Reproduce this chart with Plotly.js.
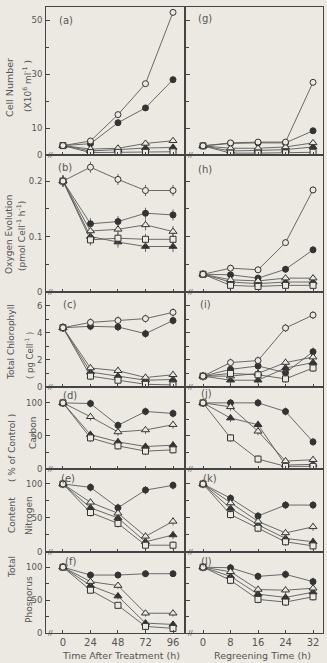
<!DOCTYPE html>
<html><head><meta charset="utf-8">
<script src="https://cdn.plot.ly/plotly-3.0.1.min.js"></script>
<style>html,body{margin:0;padding:0;background:#ebe9e1;} #chart{width:327px;height:663px;}</style>
</head><body><div id="chart"></div>
<script>
// ---------- data ----------
const timeTreat = [0, 24, 48, 72, 96];
const timeRegreen = [0, 8, 16, 24, 32];
const tickTreat = ['0', '24', '48', '72', '96'];
const tickRegreen = ['0', '8', '16', '24', '32'];

// (a) Cell number
const a_oc = [3.5, 5.2, 15, 26.5, 53];
const a_fc = [3.5, 4.2, 12, 17.5, 28];
const a_ot = [3.5, 2.2, 2.5, 4.3, 5.3];
const a_ft = [3.5, 1.5, 2, 2.6, 2.8];
const a_os = [3.5, 0.9, 1, 1, 1.2];
// (b) Oxygen evolution
const b_oc = [0.2, 0.225, 0.203, 0.183, 0.183];
const b_fc = [0.2, 0.123, 0.127, 0.142, 0.139];
const b_ot = [0.2, 0.11, 0.113, 0.121, 0.109];
const b_ft = [0.2, 0.1, 0.09, 0.082, 0.082];
const b_os = [0.2, 0.094, 0.097, 0.095, 0.095];
// (c) Total chlorophyll
const c_oc = [4.37, 4.76, 4.9, 5.04, 5.5];
const c_fc = [4.37, 4.47, 4.42, 3.93, 4.9];
const c_ot = [4.37, 1.4, 1.2, 0.7, 0.9];
const c_ft = [4.37, 1.1, 0.8, 0.5, 0.55];
const c_os = [4.37, 0.8, 0.5, 0.2, 0.15];
// (d) Carbon
const d_oc = [100, null, null, null, null];
const d_fc = [100, 99, 66, 87, 84];
const d_ot = [100, 79, 56, 59, 67];
const d_ft = [100, 52, 41, 34, 36];
const d_os = [100, 47, 35, 27, 29];
// (e) Nitrogen
const e_oc = [100, null, null, null, null];
const e_fc = [100, 95, 65, 91, 98];
const e_ot = [100, 73, 57, 23, 45];
const e_ft = [100, 65, 50, 15, 25];
const e_os = [100, 58, 42, 10, 10];
// (f) Phosphorus
const f_oc = [100, null, null, null, null];
const f_fc = [100, 88, 88, 90, 90];
const f_ot = [100, 78, 72, 30, 30];
const f_ft = [100, 72, 56, 15, 13];
const f_os = [100, 65, 42, 10, 7];
// (g) Cell number, regreening
const g_oc = [3.4, 4.5, 4.8, 4.8, 27];
const g_fc = [3.4, 4.3, 4.5, 4.5, 9];
const g_ot = [3.4, 2.5, 2.5, 3, 4.5];
const g_ft = [3.4, 1.5, 1.7, 2, 3];
const g_os = [3.4, 0.7, 0.7, 0.8, 1];
// (h) Oxygen evolution, regreening
const h_oc = [0.032, 0.043, 0.04, 0.089, 0.184];
const h_fc = [0.032, 0.031, 0.025, 0.041, 0.076];
const h_ot = [0.032, 0.022, 0.02, 0.025, 0.025];
const h_ft = [0.032, 0.018, 0.015, 0.018, 0.018];
const h_os = [0.032, 0.012, 0.01, 0.012, 0.012];
// (i) Chlorophyll, regreening
const i_oc = [0.8, 1.8, 1.95, 4.35, 5.3];
const i_fc = [0.8, 1.3, 1.55, 1.05, 2.6];
const i_ot = [0.8, 0.8, 1.0, 1.8, 2.2];
const i_ft = [0.8, 0.5, 0.5, 1.4, 1.8];
const i_os = [0.8, 1.0, 0.9, 0.6, 1.4];
// (j) Carbon, regreening
const j_oc = [100, null, null, null, null];
const j_fc = [100, 100, 100, 87, 41];
const j_ot = [100, 94, 57, 12, 14];
const j_ft = [100, 77, 67, 6, 7];
const j_os = [100, 47, 15, 4, 4];
// (k) Nitrogen, regreening
const k_oc = [100, null, null, null, null];
const k_fc = [100, 79, 53, 69, 69];
const k_ot = [100, 72, 45, 28, 37];
const k_ft = [100, 64, 40, 20, 15];
const k_os = [100, 55, 35, 15, 9];
// (l) Phosphorus, regreening
const l_oc = [100, null, null, null, null];
const l_fc = [100, 99, 86, 89, 78];
const l_ot = [100, 93, 66, 65, 68];
const l_ft = [100, 86, 59, 54, 62];
const l_os = [100, 80, 51, 47, 55];

// error bar sizes per panel (approx.)
const errSize = {a: 1, b: 0.01, c: 0.3, d: 6, e: 6, f: 5, g: 0.8, h: 0.006, i: 0.3, j: 6, k: 6, l: 6};

// y tick values (labelled) and minor tick values per row
const yMajor = [[0, 10, 30, 50], [0, 0.1, 0.2], [0, 2, 4, 6], [0, 50, 100], [0, 50, 100], [0, 50, 100]];
const yMajorText = [['0', '10', '30', '50'], ['0', '0.1', '0.2'], ['0', '2', '4', '6'], ['0', '50', '100'], ['0', '50', '100'], ['0', '50', '100']];
const yMinor = [[20, 40], [0.05, 0.15], [1, 3, 5], [25, 75], [25, 75], [25, 75]];

// ---------- styling ----------
const BG = '#ebe9e1';
const INK = '#333333';
const LINE = '#5a5a5a';
const TXT = '#555555';
const FONT = 'DejaVu Sans, sans-serif';
const W = 327, H = 663;

const MK = {
  fc: {symbol: 'circle', size: 6, color: INK, line: {color: INK, width: 1}},
  ft: {symbol: 'triangle-up', size: 7, color: INK, line: {color: INK, width: 1}},
  ot: {symbol: 'triangle-up', size: 7, color: BG, line: {color: INK, width: 1}},
  os: {symbol: 'square', size: 6, color: BG, line: {color: INK, width: 1}},
  oc: {symbol: 'circle', size: 6, color: BG, line: {color: INK, width: 1}}
};
const ORDER = ['fc', 'ft', 'ot', 'os', 'oc'];

const panels = [
  {id: 'a', n: 1, x: timeTreat, s: {oc: a_oc, fc: a_fc, ot: a_ot, ft: a_ft, os: a_os}},
  {id: 'b', n: 2, x: timeTreat, s: {oc: b_oc, fc: b_fc, ot: b_ot, ft: b_ft, os: b_os}},
  {id: 'c', n: 3, x: timeTreat, s: {oc: c_oc, fc: c_fc, ot: c_ot, ft: c_ft, os: c_os}},
  {id: 'd', n: 4, x: timeTreat, s: {oc: d_oc, fc: d_fc, ot: d_ot, ft: d_ft, os: d_os}},
  {id: 'e', n: 5, x: timeTreat, s: {oc: e_oc, fc: e_fc, ot: e_ot, ft: e_ft, os: e_os}},
  {id: 'f', n: 6, x: timeTreat, s: {oc: f_oc, fc: f_fc, ot: f_ot, ft: f_ft, os: f_os}},
  {id: 'g', n: 7, x: timeRegreen, s: {oc: g_oc, fc: g_fc, ot: g_ot, ft: g_ft, os: g_os}},
  {id: 'h', n: 8, x: timeRegreen, s: {oc: h_oc, fc: h_fc, ot: h_ot, ft: h_ft, os: h_os}},
  {id: 'i', n: 9, x: timeRegreen, s: {oc: i_oc, fc: i_fc, ot: i_ot, ft: i_ft, os: i_os}},
  {id: 'j', n: 10, x: timeRegreen, s: {oc: j_oc, fc: j_fc, ot: j_ot, ft: j_ft, os: j_os}},
  {id: 'k', n: 11, x: timeRegreen, s: {oc: k_oc, fc: k_fc, ot: k_ot, ft: k_ft, os: k_os}},
  {id: 'l', n: 12, x: timeRegreen, s: {oc: l_oc, fc: l_fc, ot: l_ot, ft: l_ft, os: l_os}}
];

const traces = [];
panels.forEach(p => {
  const sfx = p.n === 1 ? '' : String(p.n);
  ORDER.forEach(k => {
    traces.push({
      type: 'scatter', mode: 'lines+markers', x: p.x, y: p.s[k],
      xaxis: 'x' + sfx, yaxis: 'y' + sfx, showlegend: false, hoverinfo: 'skip',
      line: {color: LINE, width: 0.9}, marker: MK[k], connectgaps: false,
      error_y: {type: 'constant', value: errSize[p.id], color: LINE, thickness: 0.9, width: 0}
    });
  });
});

// ---------- layout ----------
const rowPx = [7, 155, 292, 387, 469, 552, 633];
const colPx = [[46, 184], [186, 323]];
const yRanges = [[0, 55], [0, 0.247], [0, 7.0], [0, 124], [0, 122], [0, 123]];
const xRanges = [[-14.8, 105.6], [-4.95, 34.9]];

const layout = {
  width: W, height: H, margin: {l: 0, r: 0, t: 0, b: 0},
  paper_bgcolor: BG, plot_bgcolor: BG, showlegend: false,
  font: {family: FONT, color: TXT, size: 9},
  annotations: []
};

panels.forEach(p => {
  const col = p.n <= 6 ? 0 : 1;
  const row = (p.n - 1) % 6;
  const sfx = p.n === 1 ? '' : String(p.n);
  layout['xaxis' + sfx] = {
    domain: [colPx[col][0] / W, colPx[col][1] / W], range: xRanges[col],
    anchor: 'y' + sfx, showline: true, mirror: true, linecolor: '#444', linewidth: 1,
    showgrid: false, zeroline: false, ticks: 'inside', ticklen: 3, tickwidth: 1, tickcolor: '#444',
    tickmode: 'array', tickvals: p.x, ticktext: col === 0 ? tickTreat : tickRegreen,
    showticklabels: row === 5, tickfont: {size: 10, color: TXT, family: FONT}, fixedrange: true
  };
  layout['yaxis' + sfx] = {
    domain: [1 - rowPx[row + 1] / H, 1 - rowPx[row] / H], range: yRanges[row],
    anchor: 'x' + sfx, showline: true, mirror: true, linecolor: '#444', linewidth: 1,
    showgrid: false, zeroline: false, ticks: 'inside', ticklen: 4, tickwidth: 1, tickcolor: '#444',
    tickmode: 'array', tickvals: yMajor[row], ticktext: yMajorText[row], showticklabels: col === 0,
    minor: {tickmode: 'array', tickvals: yMinor[row], ticks: 'inside', ticklen: 3, tickcolor: '#444', tickwidth: 1},
    ticklabelstandoff: 1,
    tickfont: {size: 8.5, color: TXT, family: FONT}, fixedrange: true
  };
});

function ann(text, xpx, ypx, o) {
  o = o || {};
  layout.annotations.push(Object.assign({
    text: text, xref: 'paper', yref: 'paper', x: xpx / W, y: 1 - ypx / H,
    showarrow: false, xanchor: 'center', yanchor: 'middle',
    font: {family: FONT, size: 9, color: TXT}
  }, o));
}

// panel labels
const labelPos = [
  ['(a)', 66, 20], ['(b)', 65, 167], ['(c)', 69, 305], ['(d)', 70, 395], ['(e)', 68, 478], ['(f)', 70, 561],
  ['(g)', 205, 18], ['(h)', 205, 170], ['(i)', 205, 305], ['(j)', 206, 393], ['(k)', 210, 478], ['(l)', 206, 561]
];
labelPos.forEach(l => ann(l[0], l[1], l[2], {font: {family: FONT, size: 10, color: TXT}}));

// axis break marks
rowPx.slice(1).forEach(y => {
  ann('//', 50, y, {font: {family: FONT, size: 7, color: '#444'}});
  ann('//', 190, y, {font: {family: FONT, size: 7, color: '#444'}});
});

// y titles
ann('Cell Number', 10, 88, {textangle: -90, font: {family: FONT, size: 9.5, color: TXT}});
ann('(X10<sup>6</sup> ml<sup>-1</sup> )', 27, 86, {textangle: -90});
ann('Oxygen Evolution', 9, 234, {textangle: -90});
ann('(pmol Cell<sup>-1</sup> h<sup>-1</sup>)', 21, 236, {textangle: -90});
ann('Total Chlorophyll', 11, 342, {textangle: -90});
ann('( pg Cell<sup>-1</sup> )', 29, 356, {textangle: -90, font: {family: FONT, size: 8.5, color: TXT}});
ann('Carbon', 33, 433, {textangle: -90});
ann('Nitrogen', 29, 516, {textangle: -90});
ann('Phosporus', 29, 600, {textangle: -90});
ann('( % of Control )', 12, 448, {textangle: -90});
ann('Content', 12, 515, {textangle: -90});
ann('Total', 12, 567, {textangle: -90});

// x titles
ann('Time After Treatment (h)', 121, 655, {font: {family: FONT, size: 9.5, color: TXT}});
ann('Regreening Time (h)', 262, 655, {font: {family: FONT, size: 9.5, color: TXT}});

Plotly.newPlot('chart', traces, layout, {staticPlot: true, displayModeBar: false});
</script></body></html>
